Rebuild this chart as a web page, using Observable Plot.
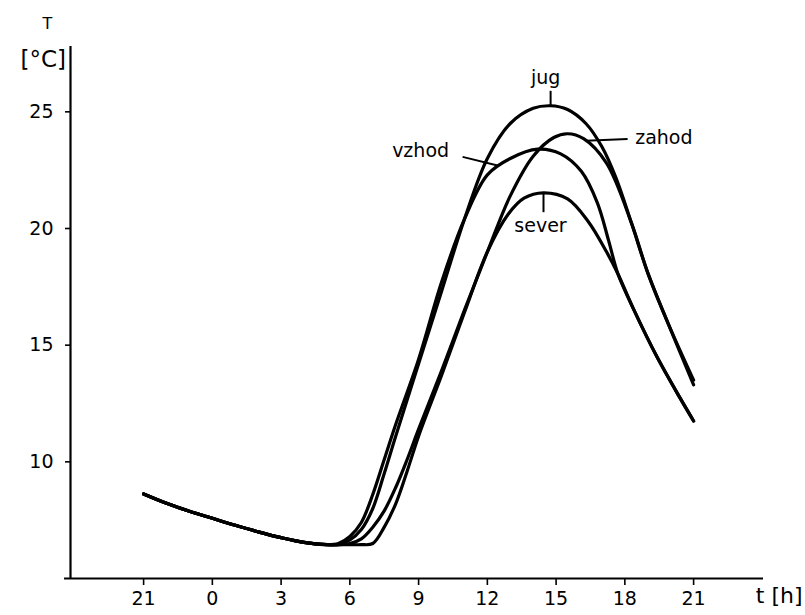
<!DOCTYPE html>
<html>
<head>
<meta charset="utf-8">
<script src="https://cdn.jsdelivr.net/npm/d3@7"></script>
<script src="https://cdn.jsdelivr.net/npm/@observablehq/plot@0.6"></script>
<style>
  html, body { margin: 0; padding: 0; background: #fff; }
  #chart svg { display: block; }
</style>
</head>
<body>
<div id="chart"></div>
<script>
// Night part shared by all four walls (hours: 21 of previous day = -3)
const nightHours = [-3, -2, -1, 0, 1, 2, 3, 4, 5];
const nightTemp  = [8.62, 8.22, 7.88, 7.58, 7.28, 7.0, 6.75, 6.55, 6.45];

const jugHours = [5.5, 6, 6.5, 7, 7.5, 8, 9, 10, 11, 12, 13, 14, 14.75, 15.5, 16.3, 17, 17.6, 18.3, 19, 19.9, 21];
const jugTemp  = [6.45, 6.65, 7.1, 8.0, 9.5, 11.1, 14.2, 17.3, 20.4, 23.0, 24.5, 25.15, 25.26, 25.1, 24.5, 23.5, 22.2, 20.2, 18.1, 15.9, 13.3];

const vzhodHours = [5.5, 6, 6.5, 7, 7.5, 8, 9, 10, 11, 12, 13, 14.2, 15.2, 16.1, 16.8, 17.3, 17.7, 18.4, 19.4, 20.4, 21];
const vzhodTemp  = [6.5, 6.8, 7.4, 8.6, 10.1, 11.6, 14.4, 17.7, 20.4, 22.3, 23.0, 23.4, 23.2, 22.45, 21.1, 19.45, 18.05, 16.5, 14.5, 12.75, 11.75];

const zahodHours = [5.5, 6, 6.5, 7, 7.5, 8, 8.5, 9, 10, 11, 12, 13, 14, 14.9, 15.5, 16.2, 17.2, 18.3, 19, 19.9, 21];
const zahodTemp  = [6.45, 6.5, 6.7, 7.2, 7.9, 8.9, 10.1, 11.4, 13.9, 16.5, 19.0, 21.4, 23.1, 23.9, 24.06, 23.85, 22.8, 20.2, 18.1, 15.9, 13.5];

const severHours = [5.5, 6, 6.5, 7, 7.5, 8, 8.5, 9, 10, 11, 12, 12.9, 13.6, 14.45, 15.5, 16.4, 17.2, 17.7, 18.4, 19.4, 20.4, 21];
const severTemp  = [6.45, 6.45, 6.45, 6.5, 7.2, 8.2, 9.6, 11.1, 13.7, 16.4, 19.0, 20.6, 21.3, 21.53, 21.27, 20.3, 19.0, 18.05, 16.5, 14.5, 12.75, 11.75];

const xTickValues = [-3, 0, 3, 6, 9, 12, 15, 18, 21];
const xTickLabels = ["21", "0", "3", "6", "9", "12", "15", "18", "21"];
const yTickValues = [10, 15, 20, 25];

// Curve labels with leader lines (annotation anchors in data space)
const labelNames = ["jug", "zahod", "vzhod", "sever"];
const labelX = [14.54, 18.45, 10.33, 14.32];
const labelY = [26.45, 23.9, 23.33, 20.12];
const labelAnchor = ["middle", "start", "end", "middle"];
const leaderX1 = [14.76, 16.29, 10.92, 14.45];
const leaderY1 = [25.9, 23.76, 23.07, 20.7];
const leaderX2 = [14.76, 18.12, 12.49, 14.45];
const leaderY2 = [25.26, 23.84, 22.69, 21.53];

function build(name, hours, temps) {
  const rows = nightHours.map((h, i) => ({series: name, hour: h, temp: nightTemp[i]}));
  hours.forEach((h, i) => rows.push({series: name, hour: h, temp: temps[i]}));
  return rows;
}
const data = [
  ...build("jug", jugHours, jugTemp),
  ...build("vzhod", vzhodHours, vzhodTemp),
  ...build("zahod", zahodHours, zahodTemp),
  ...build("sever", severHours, severTemp)
];
const labels = labelNames.map((n, i) => ({name: n, x: labelX[i], y: labelY[i], anchor: labelAnchor[i]}));
const leaders = labelNames.map((n, i) => ({x1: leaderX1[i], y1: leaderY1[i], x2: leaderX2[i], y2: leaderY2[i]}));

const font = "DejaVu Sans, Liberation Sans, sans-serif";
const xMin = -6.19, xMax = 24.05, yMin = 5, yMax = 27.8;
const fmtX = (d) => xTickLabels[xTickValues.indexOf(d)];

const chart = Plot.plot({
  width: 805,
  height: 615,
  marginLeft: 70,
  marginRight: 42,
  marginTop: 46,
  marginBottom: 37,
  style: {fontFamily: font, fontSize: "19px", color: "#000", background: "#fff"},
  x: {domain: [xMin, xMax], label: null},
  y: {domain: [yMin, yMax], label: null},
  marks: [
    Plot.axisX({ticks: xTickValues, tickFormat: fmtX, tickSize: 7, tickPadding: 6, label: null, strokeWidth: 1.6, fontSize: 19}),
    Plot.axisY({ticks: yTickValues, tickSize: 5, tickPadding: 12, label: null, strokeWidth: 1.6, fontSize: 19}),
    Plot.ruleX([xMin], {stroke: "#000", strokeWidth: 2.2}),
    Plot.ruleY([yMin], {x1: -6.45, x2: xMax, stroke: "#000", strokeWidth: 2.2, clip: false}),
    Plot.line(data, {x: "hour", y: "temp", z: "series", curve: "catmull-rom", stroke: "#000", strokeWidth: 3.2, strokeLinejoin: "round", strokeLinecap: "round"}),
    Plot.link(leaders, {x1: "x1", y1: "y1", x2: "x2", y2: "y2", stroke: "#000", strokeWidth: 2}),
    Plot.text(labels.filter(d => d.anchor === "middle"), {x: "x", y: "y", text: "name", textAnchor: "middle", fontSize: 19, fill: "#000"}),
    Plot.text(labels.filter(d => d.anchor === "start"), {x: "x", y: "y", text: "name", textAnchor: "start", fontSize: 19, fill: "#000"}),
    Plot.text(labels.filter(d => d.anchor === "end"), {x: "x", y: "y", text: "name", textAnchor: "end", fontSize: 19, fill: "#000"}),
    Plot.text(["T"], {frameAnchor: "top-left", dx: -28, dy: -29, text: d => d, fontSize: 16, fill: "#000"}),
    Plot.text(["[°C]"], {frameAnchor: "top-left", dx: -50, dy: 4, text: d => d, textAnchor: "start", fontSize: 23, fill: "#000"}),
    Plot.text(["t [h]"], {frameAnchor: "bottom-right", dx: 39, dy: 24, text: d => d, fontSize: 22, textAnchor: "end", fill: "#000"})
  ]
});
document.getElementById("chart").appendChild(chart);
</script>
</body>
</html>
